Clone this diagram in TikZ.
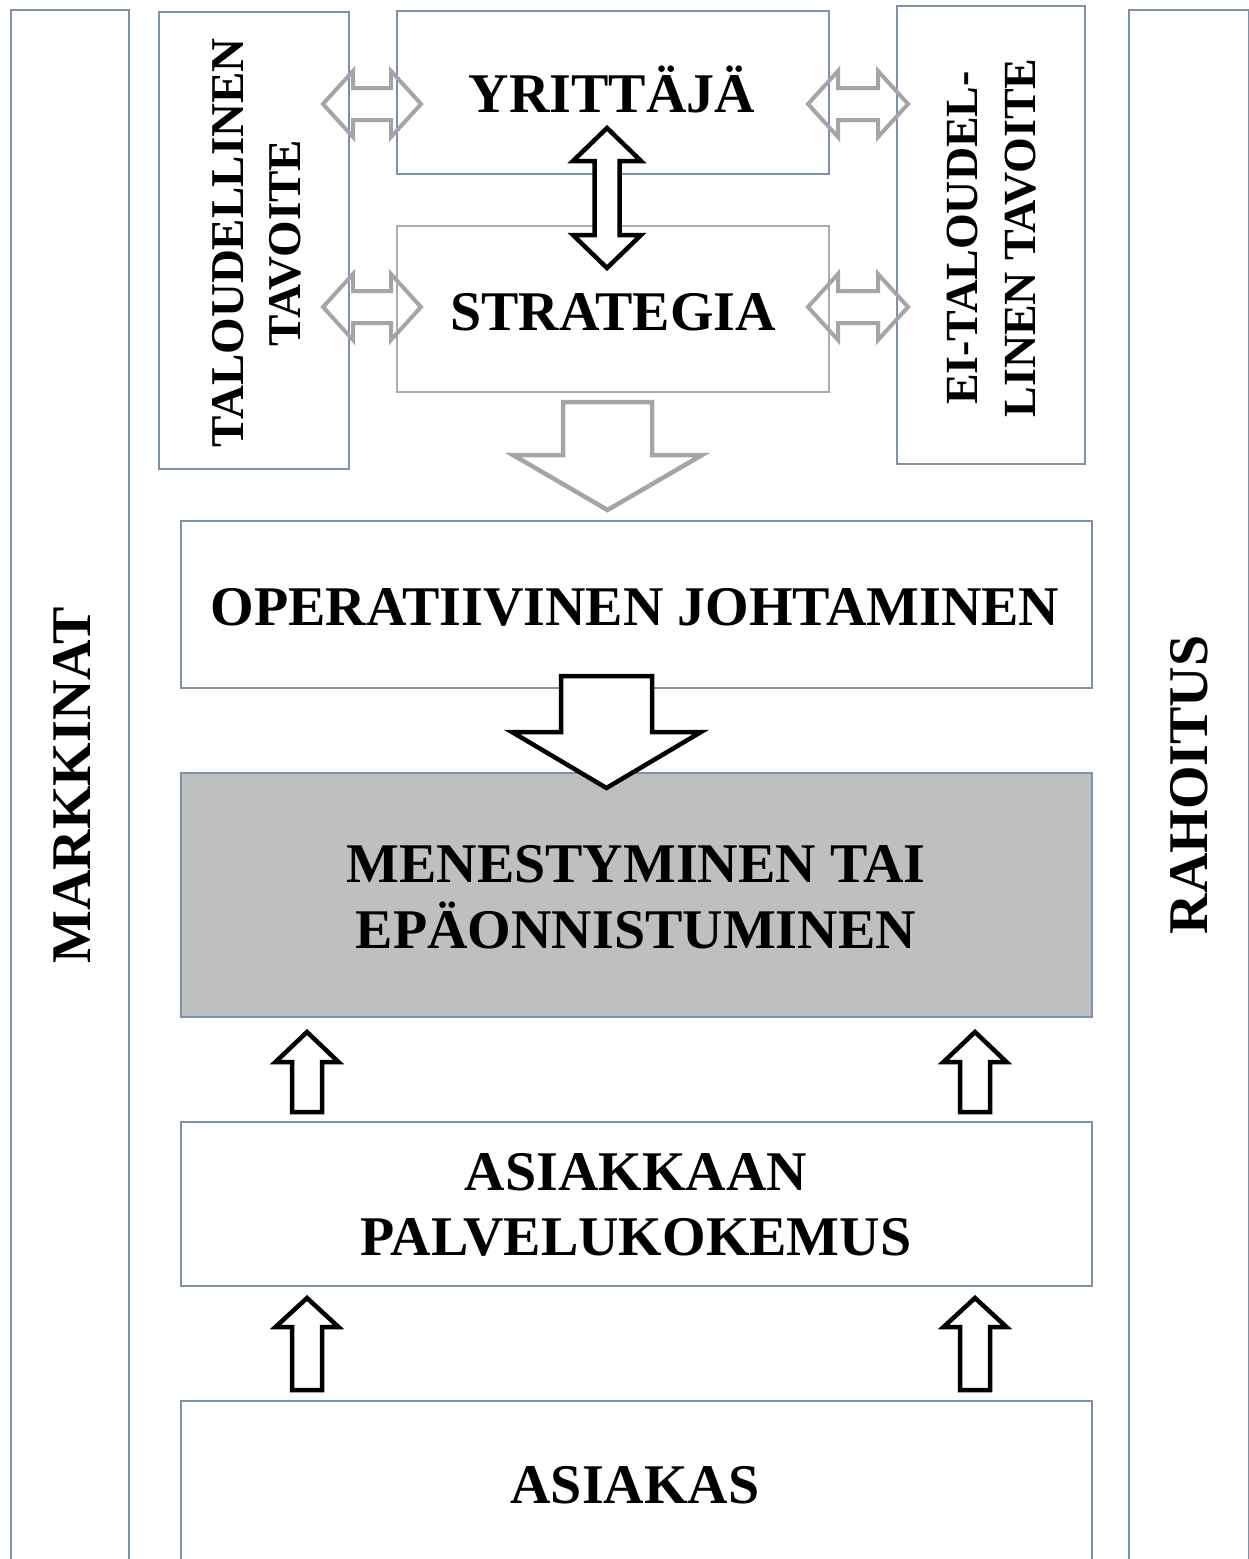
\documentclass[tikz,border=0pt]{standalone}
\usepackage{fontspec}
\setmainfont{Liberation Serif}
\definecolor{boxblue}{RGB}{125,145,170}
\definecolor{strgray}{RGB}{172,172,172}
\definecolor{arrgray}{RGB}{165,165,168}
\definecolor{fillgray}{RGB}{191,191,191}
\tikzset{
  frame/.style={draw=boxblue, line width=1.5pt, fill=white, inner sep=0pt, anchor=north west},
  lbl/.style={font=\fontsize{56}{66}\selectfont\bfseries, inner sep=0pt, anchor=base, align=center},
  vlbl/.style={font=\fontsize{47}{57}\selectfont\bfseries, inner sep=0pt, anchor=base, align=center, rotate=90},
  garrow/.style={draw=arrgray, line width=4pt, line join=miter},
  gdown/.style={draw=arrgray, line width=4.5pt, fill=white, line join=miter},
  barrow/.style={draw=black, line width=4.5pt, fill=white, line join=miter},
}
\begin{document}
\begin{tikzpicture}[x=1pt,y=-1pt]
\useasboundingbox (0,0) rectangle (1249,1559);
\clip (0,0) rectangle (1249,1559);
\fill[white] (0,0) rectangle (1249,1559);

% boxes
\node[frame, minimum width=118pt, minimum height=1580pt] (markt) at (10,9) {};
\node[frame, minimum width=120pt, minimum height=1580pt] (rahoit) at (1128,9) {};
\node[frame, minimum width=190pt, minimum height=457pt] (talo) at (158,11) {};
\node[frame, minimum width=432pt, minimum height=163pt] (yritt) at (396,10) {};
\node[frame, draw=strgray, minimum width=432pt, minimum height=166pt] (strat) at (396,225) {};
\node[frame, minimum width=188pt, minimum height=458pt] (eital) at (896,5) {};
\node[frame, minimum width=911pt, minimum height=167pt] (oper) at (180,520) {};
\node[frame, fill=fillgray, minimum width=911pt, minimum height=244pt] (menest) at (180,772) {};
\node[frame, minimum width=911pt, minimum height=164pt] (asiakk) at (180,1121) {};
\node[frame, minimum width=911pt, minimum height=220pt] (asiakas) at (180,1400) {};

% texts (multi-line nodes: base anchor = last line baseline)
\node[lbl, rotate=90] (tmark) at (90,785) {MARKKINAT};
\node[lbl, rotate=90] (trah) at (1207,785) {RAHOITUS};
\node[vlbl] (ttalo) at (300,243) {TALOUDELLINEN\\TAVOITE};
\node[vlbl, font=\fontsize{46}{58}\selectfont\bfseries] (teital) at (1035,238) {EI-TALOUDEL-\\LINEN TAVOITE};
\node[lbl] (tyritt) at (612,112) {YRITTÄJÄ};
\node[lbl] (tstrat) at (613,330) {STRATEGIA};
\node[lbl] (toper) at (635,625) {OPERATIIVINEN JOHTAMINEN};
\node[lbl] (tmen) at (636,948) {MENESTYMINEN TAI\\EPÄONNISTUMINEN};
\node[lbl, font=\fontsize{56}{65}\selectfont\bfseries] (tasiakk) at (636,1255) {ASIAKKAAN\\PALVELUKOKEMUS};
\node[lbl] (tasiakas) at (635,1503) {ASIAKAS};

% gray double arrows (outline only)
\draw[garrow] (323,104) -- ++(30,-33) -- ++(0,17) -- ++(38,0) -- ++(0,-17) -- ++(30,33) -- ++(-30,33) -- ++(0,-17) -- ++(-38,0) -- ++(0,17) -- cycle;
\draw[garrow] (323,307) -- ++(30,-33) -- ++(0,17) -- ++(38,0) -- ++(0,-17) -- ++(30,33) -- ++(-30,33) -- ++(0,-17) -- ++(-38,0) -- ++(0,17) -- cycle;
\draw[garrow] (808,104) -- ++(30,-33) -- ++(0,17) -- ++(40,0) -- ++(0,-17) -- ++(30,33) -- ++(-30,33) -- ++(0,-17) -- ++(-40,0) -- ++(0,17) -- cycle;
\draw[garrow] (808,307) -- ++(30,-33) -- ++(0,17) -- ++(40,0) -- ++(0,-17) -- ++(30,33) -- ++(-30,33) -- ++(0,-17) -- ++(-40,0) -- ++(0,17) -- cycle;

% black vertical double arrow YRITTAJA <-> STRATEGIA
\draw[barrow] (607,128) -- ++(34,33) -- ++(-21.5,0) -- ++(0,74) -- ++(21.5,0) -- ++(-34,33) -- ++(-34,-33) -- ++(21.5,0) -- ++(0,-74) -- ++(-21.5,0) -- cycle;

% gray down arrow STRATEGIA -> OPERATIIVINEN
\draw[gdown] (563,402) -- (652,402) -- (652,455) -- (702,455) -- (607.5,510) -- (513,455) -- (563,455) -- cycle;

% black down arrow OPERATIIVINEN -> MENESTYMINEN
\draw[barrow] (561,676) -- (652,676) -- (652,732) -- (701,732) -- (606.5,788) -- (512,732) -- (561,732) -- cycle;

% small up arrows
\draw[barrow] (307,1032) -- (338.5,1062) -- (322,1062) -- (322,1112) -- (292,1112) -- (292,1062) -- (275.5,1062) -- cycle;
\draw[barrow] (975,1032) -- (1006.5,1062) -- (990,1062) -- (990,1112) -- (960,1112) -- (960,1062) -- (943.5,1062) -- cycle;
\draw[barrow] (307,1298) -- (338.5,1327) -- (322,1327) -- (322,1390) -- (292,1390) -- (292,1327) -- (275.5,1327) -- cycle;
\draw[barrow] (975,1298) -- (1006.5,1327) -- (990,1327) -- (990,1390) -- (960,1390) -- (960,1327) -- (943.5,1327) -- cycle;
\end{tikzpicture}
\end{document}
